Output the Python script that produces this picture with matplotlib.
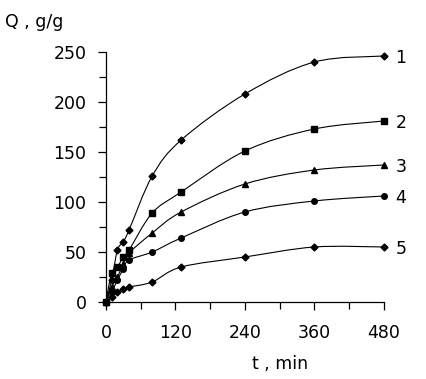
import numpy as np
import matplotlib.pyplot as plt
from matplotlib.path import Path
from matplotlib.patches import PathPatch

plt.rcParams['font.family'] = ['DejaVu Sans']

# sorption time, min
t = [0, 10, 20, 30, 40, 80, 130, 240, 360, 480]

# swelling degree Q, g/g for samples 1..5
q1 = [0, 22, 52, 60, 72, 126, 162, 208, 240, 246]
q2 = [0, 29, 35, 45, 52, 89, 110, 151, 173, 181]
q3 = [0, 15, 25, 38, 49, 69, 90, 118, 132, 137]
q4 = [0, 10, 22, 33, 42, 50, 64, 90, 101, 106]
q5 = [0, 5, 10, 13, 15, 20, 35, 45, 55, 55]

curve_names = ['1', '2', '3', '4', '5']
markers = ['D', 's', '^', 'o', 'D']
msizes = [3.5, 4.5, 5, 4, 3.5]


def smooth_path(x, y):
    # excel-like smoothed line: catmull-rom segments as cubic beziers
    x = np.asarray(x, float)
    y = np.asarray(y, float)
    pts = np.column_stack([x, y])
    n = len(pts)
    verts = [pts[0]]
    codes = [Path.MOVETO]
    for i in range(n - 1):
        p0 = pts[i - 1] if i > 0 else pts[i]
        p1 = pts[i]
        p2 = pts[i + 1]
        p3 = pts[i + 2] if i + 2 < n else pts[i + 1]
        c1 = p1 + (p2 - p0) / 6.0
        c2 = p2 - (p3 - p1) / 6.0
        verts += [c1, c2, p2]
        codes += [Path.CURVE4] * 3
    return Path(verts, codes)


fig = plt.figure(figsize=(4.27, 3.79), dpi=100)
ax = fig.add_axes([0.248, 0.2032, 0.651, 0.6596])

fs = 12.5
all_q = [q1, q2, q3, q4, q5]
for q, name, m, ms in zip(all_q, curve_names, markers, msizes):
    patch = PathPatch(smooth_path(t, q), facecolor='none', edgecolor='black', lw=0.8)
    ax.add_patch(patch)
    ax.plot(t, q, linestyle='None', marker=m, ms=ms, color='black', clip_on=False, zorder=3)
    ax.text(500, q[-1] - 2, name, fontsize=fs, ha='left', va='center', clip_on=False)

ax.set_xlim(0, 480)
ax.set_ylim(0, 250)
ax.set_xticks([0, 120, 240, 360, 480])
ax.set_xticks([60, 180, 300, 420], minor=True)
ax.set_yticks([0, 50, 100, 150, 200, 250])
ax.set_yticks([25, 75, 125, 175, 225], minor=True)

for s in ['top', 'right']:
    ax.spines[s].set_visible(False)
for s in ['left', 'bottom']:
    ax.spines[s].set_linewidth(0.9)

ax.tick_params(which='both', direction='out', width=0.9, labelsize=fs)
ax.tick_params(which='major', length=6)
ax.tick_params(which='minor', length=5)
ax.tick_params(axis='x', which='major', pad=9.5)
ax.tick_params(axis='y', which='major', pad=8)

fig.text(0.0117, 0.9288, 'Q , g/g', fontsize=fs, ha='left', va='baseline')
fig.text(0.655, 0.0264, 't , min', fontsize=fs, ha='center', va='baseline')

fig.savefig('out.png', dpi=100)
